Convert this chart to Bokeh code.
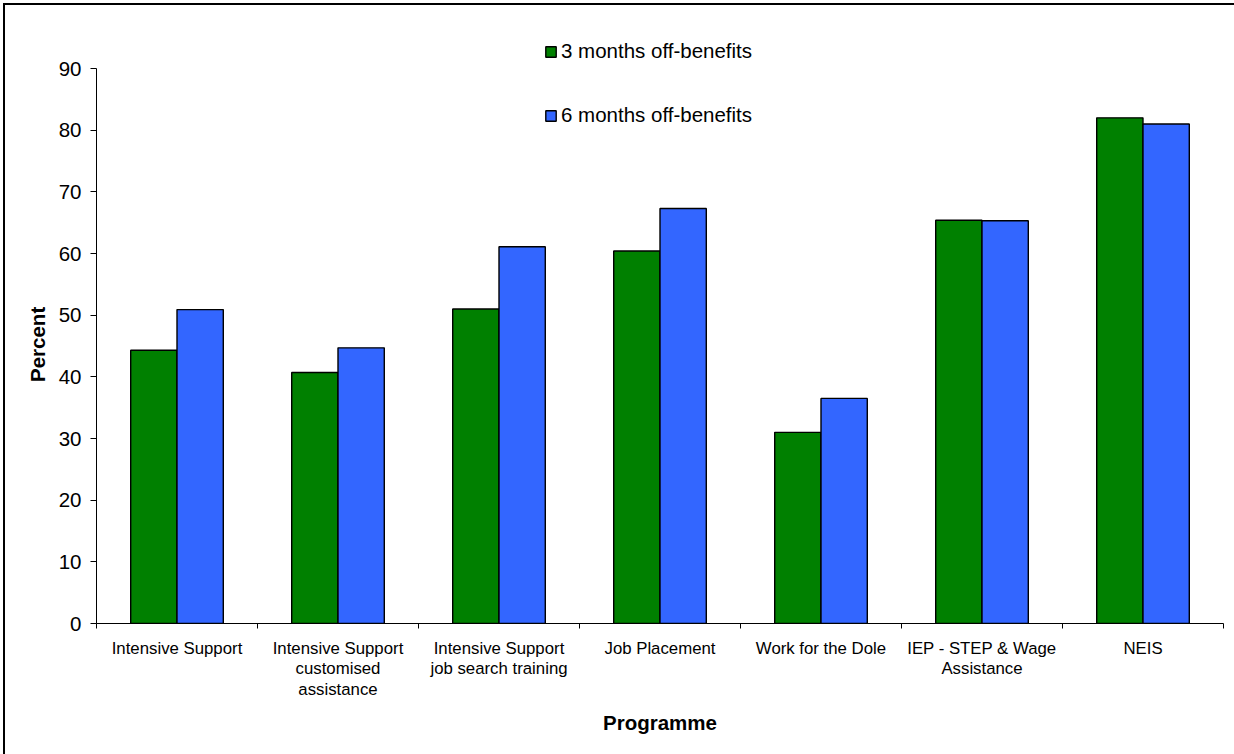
import numpy as np
from bokeh.plotting import figure
from bokeh.models import (ColumnDataSource, Range1d, FixedTicker, Legend,
                          LegendItem, Title, InlineStyleSheet)
from bokeh.transform import dodge
from bokeh.embed import file_html
from bokeh.resources import INLINE

# ---------------- data ----------------
programmes = [
    "Intensive Support",
    "Intensive Support\ncustomised\nassistance",
    "Intensive Support\njob search training",
    "Job Placement",
    "Work for the Dole",
    "IEP - STEP & Wage\nAssistance",
    "NEIS",
]
months3 = [44.3, 40.7, 51.0, 60.4, 31.0, 65.4, 82.0]
months6 = [50.9, 44.7, 61.1, 67.3, 36.5, 65.3, 81.0]
series_names = ["3 months off-benefits", "6 months off-benefits"]
y_ticks = [0, 10, 20, 30, 40, 50, 60, 70, 80, 90]
x_title = "Programme"
y_title = "Percent"

FONT = "Liberation Sans"
GREEN = "#008000"
BLUE = "#3366FF"

n = len(programmes)
centers = np.arange(n) + 0.5
source = ColumnDataSource(dict(x=centers, m3=months3, m6=months6))

# plot frame reaches a little above the 90 line so the legend can sit there
FRAME_TOP = 20
FRAME_BOTTOM = 623
Y90_PX = 68
y_end = 90 * (FRAME_BOTTOM - FRAME_TOP) / (FRAME_BOTTOM - Y90_PX)

p = figure(width=1234, height=754, output_backend="svg", toolbar_location=None,
           x_range=Range1d(0, n), y_range=Range1d(0, y_end),
           min_border_left=96, min_border_right=11, min_border_top=FRAME_TOP,
           min_border_bottom=754 - FRAME_BOTTOM)
p.outline_line_color = None
p.xgrid.grid_line_color = None
p.ygrid.grid_line_color = None
p.background_fill_color = "white"
p.border_fill_color = "white"
# outer chart-area border: only the top and left edges are visible
p.stylesheets = [InlineStyleSheet(css=(
    ":host::after { content: ''; position: absolute; left: 3px; top: 3px; "
    "width: 1300px; height: 1000px; border-left: 2px solid #000; "
    "border-top: 2px solid #000; pointer-events: none; z-index: 10; }"
    ":host { overflow: hidden; }"))]

bw = 0.2875
r3 = p.vbar(x=dodge("x", -bw / 2, range=p.x_range), top="m3", width=bw, bottom=0,
            source=source, fill_color=GREEN, line_color="black", line_width=1.4)
r6 = p.vbar(x=dodge("x", bw / 2, range=p.x_range), top="m6", width=bw, bottom=0,
            source=source, fill_color=BLUE, line_color="black", line_width=1.4)

# x axis: labels at category centres, tick marks at category boundaries
xa = p.xaxis[0]
xa.ticker = FixedTicker(ticks=list(centers), minor_ticks=list(range(n + 1)))
xa.major_label_overrides = {float(c): lab for c, lab in zip(centers, programmes)}
xa.major_tick_line_color = None
xa.major_tick_out = 5
xa.major_tick_in = 0
xa.minor_tick_line_color = "black"
xa.minor_tick_out = 5
xa.minor_tick_in = 0
xa.axis_line_color = "black"
xa.major_label_text_font = FONT
xa.major_label_text_font_size = "16.8px"
xa.major_label_text_color = "black"
xa.major_label_text_line_height = 1.1
xa.major_label_standoff = 10
xa.axis_label = x_title
xa.axis_label_text_font = FONT
xa.axis_label_text_font_size = "20.5px"
xa.axis_label_text_font_style = "bold"
xa.axis_label_text_color = "black"
xa.axis_label_standoff = 9

ya = p.yaxis[0]
ya.ticker = FixedTicker(ticks=y_ticks)
ya.bounds = (0, 90)
ya.minor_tick_line_color = None
ya.major_tick_out = 6
ya.major_tick_in = 0
ya.major_tick_line_color = "black"
ya.axis_line_color = "black"
ya.major_label_text_font = FONT
ya.major_label_text_font_size = "20.5px"
ya.major_label_text_color = "black"
ya.major_label_standoff = 9

# y-axis title, centred on the 0..90 axis span (frame is taller than the axis)
axis_mid_px = (FRAME_BOTTOM + Y90_PX) / 2
title_len_px = 72
ytitle = Title(text=y_title, align="left",
               offset=FRAME_BOTTOM - (axis_mid_px + title_len_px / 2),
               text_font=FONT, text_font_size="20.5px", text_font_style="bold",
               text_color="black", standoff=14)
p.add_layout(ytitle, "left")

legend = Legend(items=[LegendItem(label=series_names[0], renderers=[r3]),
                       LegendItem(label=series_names[1], renderers=[r6])],
                location=(448, 496), orientation="vertical",
                glyph_width=13, glyph_height=13, label_standoff=4,
                spacing=40, padding=0, margin=0,
                label_text_font=FONT, label_text_font_size="20.5px",
                label_text_color="black",
                border_line_color=None, background_fill_alpha=0)
p.add_layout(legend, "center")

open("out.html", "w").write(file_html(p, INLINE))
